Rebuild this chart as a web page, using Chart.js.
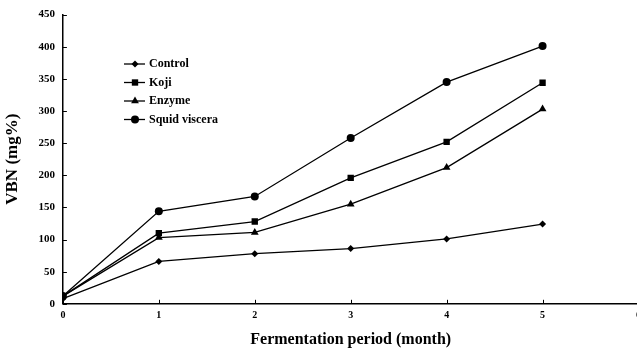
<!DOCTYPE html>
<html><head><meta charset="utf-8">
<script src="https://cdn.jsdelivr.net/npm/chart.js@4/dist/chart.umd.min.js"></script>
<style>html,body{margin:0;padding:0;background:#fff;overflow:hidden;}#wrap{width:637px;height:355px;position:relative;overflow:hidden;}</style>
</head><body><div id="wrap"><canvas id="c" width="643" height="355"></canvas></div>
<script>
const months = [0, 1, 2, 3, 4, 5];
const control = [8, 66, 78, 86, 101, 124];
const koji = [12, 110, 128, 196, 252, 344];
const enzyme = [12, 103, 111, 155, 212, 303];
const squid = [12, 144, 167, 258, 345, 401];
const seriesNames = ['Control', 'Koji', 'Enzyme', 'Squid viscera'];
const xTicks = [0, 1, 2, 3, 4, 5, 6];
const yTicks = [0, 50, 100, 150, 200, 250, 300, 350, 400, 450];

const FONT = '"Liberation Serif", "DejaVu Serif", serif';
const styles = [
  {pointStyle: 'rectRot', radius: 3.5},
  {pointStyle: 'rect', radius: 4.5},
  {pointStyle: 'triangle', radius: 4.5},
  {pointStyle: 'circle', radius: 4}
];
const vals = [control, koji, enzyme, squid];
const datasets = vals.map((v, i) => ({
  label: seriesNames[i],
  data: months.map((m, j) => ({x: m, y: v[j]})),
  borderColor: '#000', backgroundColor: '#000', borderWidth: 1.3,
  pointStyle: styles[i].pointStyle, pointRadius: styles[i].radius,
  pointBorderWidth: 0, pointBackgroundColor: '#000', tension: 0
}));

const extras = {
  id: 'extras',
  afterDraw(chart) {
    const ctx = chart.ctx;
    const xs = chart.scales.x, ys = chart.scales.y;
    const area = chart.chartArea;
    ctx.save();
    ctx.strokeStyle = '#000'; ctx.lineWidth = 1;
    xs.ticks.forEach(t => {
      const px = Math.round(xs.getPixelForValue(t.value)) + 0.5;
      ctx.beginPath(); ctx.moveTo(px, area.bottom); ctx.lineTo(px, area.bottom - 4); ctx.stroke();
    });
    ys.ticks.forEach(t => {
      const py = Math.round(ys.getPixelForValue(t.value)) + 0.5;
      ctx.beginPath(); ctx.moveTo(area.left, py); ctx.lineTo(area.left + 4, py); ctx.stroke();
    });
    const x0 = 124, y0 = 64, dy = 18.5;
    chart.data.datasets.forEach((ds, i) => {
      const y = y0 + i * dy;
      ctx.strokeStyle = '#000'; ctx.lineWidth = 1.3;
      ctx.beginPath(); ctx.moveTo(x0, y); ctx.lineTo(x0 + 21, y); ctx.stroke();
      ctx.fillStyle = '#000';
      Chart.helpers.drawPoint(ctx, {pointStyle: ds.pointStyle, radius: ds.pointRadius, borderWidth: 0}, x0 + 11, y);
      ctx.font = 'bold 12px ' + FONT;
      ctx.textBaseline = 'middle'; ctx.textAlign = 'left';
      ctx.fillText(ds.label, x0 + 25, y);
    });
    ctx.restore();
  }
};

new Chart(document.getElementById('c'), {
  type: 'line',
  data: {datasets},
  options: {
    responsive: false, animation: false,
    layout: {padding: {left: 2, right: 0, top: 0, bottom: 0}},
    plugins: {legend: {display: false}, tooltip: {enabled: false}},
    scales: {
      x: {
        type: 'linear', min: 0, max: 6,
        afterBuildTicks: s => { s.ticks = xTicks.map(v => ({value: v})); },
        afterFit: s => { s.paddingRight = 0; },
        grid: {display: true, drawOnChartArea: false, drawTicks: false, color: '#000'},
        border: {color: '#000', width: 1.5},
        ticks: {color: '#000', font: {family: FONT, weight: 'bold', size: 10}, padding: 6},
        title: {display: true, text: 'Fermentation period (month)', color: '#000', font: {family: FONT, weight: 'bold', size: 16}, padding: {top: 2, bottom: 6}}
      },
      y: {
        min: 0, max: 450,
        afterBuildTicks: s => { s.ticks = yTicks.map(v => ({value: v})); },
        grid: {display: true, drawOnChartArea: false, drawTicks: false, color: '#000'},
        border: {color: '#000', width: 1.5},
        ticks: {color: '#000', font: {family: FONT, weight: 'bold', size: 11}, padding: 8},
        title: {display: true, text: 'VBN (mg%)', color: '#000', font: {family: FONT, weight: 'bold', size: 17}, padding: {top: 0, bottom: 8}}
      }
    }
  },
  plugins: [extras]
});
</script></body></html>
